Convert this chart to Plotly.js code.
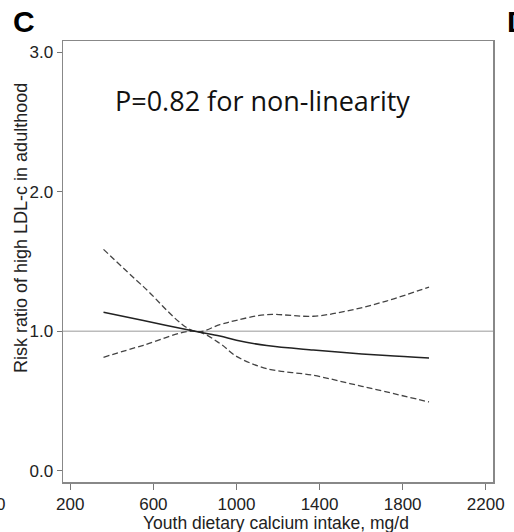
<!DOCTYPE html>
<html>
<head>
<meta charset="utf-8">
<script src="https://cdn.plot.ly/plotly-3.0.1.min.js"></script>
<style>html,body{margin:0;padding:0;background:#fff;}#chart{width:514px;height:532px;}</style>
</head>
<body>
<div id="chart"></div>
<script>
// Data
var calcium = [360, 552, 800, 920, 1000, 1146, 1370, 1546, 1722, 1927];
var riskRatio = [1.136, 1.077, 1.0, 0.966, 0.936, 0.898, 0.866, 0.845, 0.826, 0.809];
var upperCI = [1.587, 1.32, 1.0, 1.048, 1.079, 1.12, 1.108, 1.15, 1.217, 1.317];
var lowerCI = [0.814, 0.9, 1.0, 0.914, 0.821, 0.733, 0.685, 0.626, 0.566, 0.494];
var xTicks = [200, 600, 1000, 1400, 1800, 2200];
var yTicks = [0, 1, 2, 3];
var yTickLabels = ['0.0', '1.0', '2.0', '3.0'];
var refValue = 1.0;

var font = 'Liberation Sans, Arial, sans-serif';
var traces = [
  {x: calcium, y: upperCI, mode: 'lines', line: {color: '#444', width: 1.3, dash: '6px,3px', shape: 'spline'}, hoverinfo: 'skip'},
  {x: calcium, y: lowerCI, mode: 'lines', line: {color: '#444', width: 1.3, dash: '6px,3px', shape: 'spline'}, hoverinfo: 'skip'},
  {x: calcium, y: riskRatio, mode: 'lines', line: {color: '#222', width: 1.5, shape: 'spline'}, hoverinfo: 'skip'}
];

var layout = {
  width: 514, height: 532,
  margin: {l: 63, r: 21, t: 41, b: 50},
  paper_bgcolor: '#fff', plot_bgcolor: '#fff',
  showlegend: false,
  font: {family: font, color: '#222', size: 17},
  xaxis: {
    range: [165, 2235], tickvals: xTicks, ticktext: xTicks.map(String),
    ticks: 'outside', ticklen: 6, tickcolor: '#777', tickwidth: 1,
    showline: true, linecolor: '#888', linewidth: 1.5, mirror: true,
    showgrid: false, zeroline: false,
    tickfont: {family: font, size: 17, color: '#222'}
  },
  yaxis: {
    range: [-0.079, 3.079], tickvals: yTicks, ticktext: yTickLabels,
    ticks: 'outside', ticklen: 5, tickcolor: '#777', tickwidth: 1,
    showline: true, linecolor: '#888', linewidth: 1.5, mirror: true,
    showgrid: false, zeroline: false,
    tickfont: {family: font, size: 17, color: '#222'}
  },
  shapes: [
    {type: 'line', xref: 'paper', x0: 0, x1: 1, yref: 'y', y0: refValue, y1: refValue, line: {color: '#bbb', width: 1.5}, layer: 'below'}
  ],
  annotations: [
    {text: 'P=0.82 for non-linearity', xref: 'paper', yref: 'paper', x: 0.464, y: 0.866, xanchor: 'center', yanchor: 'middle', showarrow: false, font: {family: 'Open Sans, Noto Sans, sans-serif', size: 27, color: '#111'}},
    {text: 'Youth dietary calcium intake, mg/d', xref: 'paper', yref: 'paper', x: 0.4965, y: -0.093, xanchor: 'center', yanchor: 'middle', showarrow: false, font: {family: font, size: 17.5, color: '#222'}},
    {text: 'Risk ratio of high LDL-c in adulthood', textangle: -90, xref: 'paper', yref: 'paper', x: -0.0977, y: 0.576, xanchor: 'center', yanchor: 'middle', showarrow: false, font: {family: font, size: 18, color: '#222'}},
    {text: '<b>C</b>', xref: 'paper', yref: 'paper', x: -0.122, y: 1.044, xanchor: 'left', yanchor: 'middle', showarrow: false, font: {family: font, size: 30, color: '#000'}},
    {text: '<b>D</b>', xref: 'paper', yref: 'paper', x: 1.028, y: 1.044, xanchor: 'left', yanchor: 'middle', showarrow: false, font: {family: font, size: 30, color: '#000'}},
    {text: '0', xref: 'paper', yref: 'paper', x: -0.16, y: -0.052, xanchor: 'left', yanchor: 'middle', showarrow: false, font: {family: font, size: 17, color: '#222'}}
  ]
};

Plotly.newPlot('chart', traces, layout, {displayModeBar: false, staticPlot: true});
</script>
</body>
</html>
